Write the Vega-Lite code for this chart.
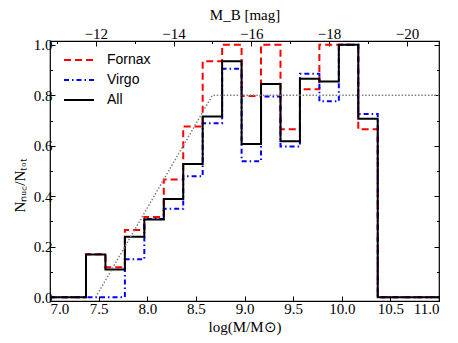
{
  "$schema": "https://vega.github.io/schema/vega-lite/v6.json",
  "width": 389,
  "height": 260,
  "autosize": {"type": "none"},
  "padding": {"left": 50, "top": 41, "right": 19, "bottom": 42},
  "background": "white",
  "config": {
    "font": "Liberation Serif",
    "view": {"stroke": "#000", "strokeWidth": 1.2},
    "axis": {
      "labelFont": "Liberation Serif", "labelFontSize": 15, "labelColor": "#000",
      "titleFont": "Liberation Serif", "titleFontSize": 15, "titleFontWeight": "normal", "titleColor": "#000",
      "tickColor": "#000", "tickWidth": 1, "domain": false, "grid": false
    }
  },
  "datasets": {
    "h": [
      {"s": "Fornax", "x": 7.0, "y": 0},
      {"s": "Fornax", "x": 7.37, "y": 0.17},
      {"s": "Fornax", "x": 7.57, "y": 0.119},
      {"s": "Fornax", "x": 7.77, "y": 0.266},
      {"s": "Fornax", "x": 7.97, "y": 0.318},
      {"s": "Fornax", "x": 8.17, "y": 0.466},
      {"s": "Fornax", "x": 8.37, "y": 0.676},
      {"s": "Fornax", "x": 8.57, "y": 0.935},
      {"s": "Fornax", "x": 8.77, "y": 1.0},
      {"s": "Fornax", "x": 8.97, "y": 0.797},
      {"s": "Fornax", "x": 9.17, "y": 1.0},
      {"s": "Fornax", "x": 9.37, "y": 0.665},
      {"s": "Fornax", "x": 9.57, "y": 0.824},
      {"s": "Fornax", "x": 9.77, "y": 1.0},
      {"s": "Fornax", "x": 9.97, "y": 1.0},
      {"s": "Fornax", "x": 10.17, "y": 0.665},
      {"s": "Fornax", "x": 10.37, "y": 0},
      {"s": "Fornax", "x": 11.0, "y": 0},
      {"s": "Virgo", "x": 7.0, "y": 0},
      {"s": "Virgo", "x": 7.37, "y": 0},
      {"s": "Virgo", "x": 7.57, "y": 0},
      {"s": "Virgo", "x": 7.77, "y": 0.15},
      {"s": "Virgo", "x": 7.97, "y": 0.31},
      {"s": "Virgo", "x": 8.17, "y": 0.35},
      {"s": "Virgo", "x": 8.37, "y": 0.479},
      {"s": "Virgo", "x": 8.57, "y": 0.689},
      {"s": "Virgo", "x": 8.77, "y": 0.905},
      {"s": "Virgo", "x": 8.97, "y": 0.539},
      {"s": "Virgo", "x": 9.17, "y": 0.795},
      {"s": "Virgo", "x": 9.37, "y": 0.597},
      {"s": "Virgo", "x": 9.57, "y": 0.885},
      {"s": "Virgo", "x": 9.77, "y": 0.776},
      {"s": "Virgo", "x": 9.97, "y": 1.0},
      {"s": "Virgo", "x": 10.17, "y": 0.726},
      {"s": "Virgo", "x": 10.37, "y": 0},
      {"s": "Virgo", "x": 11.0, "y": 0},
      {"s": "All", "x": 7.0, "y": 0},
      {"s": "All", "x": 7.37, "y": 0.169},
      {"s": "All", "x": 7.57, "y": 0.11},
      {"s": "All", "x": 7.77, "y": 0.24},
      {"s": "All", "x": 7.97, "y": 0.308},
      {"s": "All", "x": 8.17, "y": 0.389},
      {"s": "All", "x": 8.37, "y": 0.528},
      {"s": "All", "x": 8.57, "y": 0.716},
      {"s": "All", "x": 8.77, "y": 0.935},
      {"s": "All", "x": 8.97, "y": 0.607},
      {"s": "All", "x": 9.17, "y": 0.845},
      {"s": "All", "x": 9.37, "y": 0.618},
      {"s": "All", "x": 9.57, "y": 0.865},
      {"s": "All", "x": 9.77, "y": 0.855},
      {"s": "All", "x": 9.97, "y": 1.0},
      {"s": "All", "x": 10.17, "y": 0.707},
      {"s": "All", "x": 10.37, "y": 0},
      {"s": "All", "x": 11.0, "y": 0}
    ],
    "ref": [
      {"x": 7.47, "y": 0},
      {"x": 8.67, "y": 0.8},
      {"x": 11.0, "y": 0.8}
    ]
  },
  "resolve": {"axis": {"x": "independent", "y": "independent"}},
  "layer": [
    {
      "data": {"name": "h"},
      "transform": [{"filter": "datum.s == 'Fornax'"}],
      "mark": {"type": "line", "interpolate": "step-after", "strokeWidth": 2},
      "encoding": {
        "x": {"field": "x", "type": "quantitative", "scale": {"domain": [7, 11], "nice": false, "zero": false},
          "axis": {"orient": "bottom", "values": [7, 7.5, 8, 8.5, 9, 9.5, 10, 10.5, 11], "format": ".1f",
            "title": "log(M/M⊙)", "tickSize": -5, "labelPadding": 5, "titlePadding": 3}},
        "y": {"field": "y", "type": "quantitative", "scale": {"domain": [-0.015, 1.015], "nice": false, "zero": false},
          "axis": {"orient": "left", "values": [0, 0.1, 0.2, 0.3, 0.4, 0.5, 0.6, 0.7, 0.8, 0.9, 1.0],
            "labelExpr": "round(datum.value*10) % 2 == 0 ? format(datum.value, '.1f') : ''",
            "tickSize": {"condition": {"test": "round(datum.value*10) % 2 == 0", "value": -5}, "value": -2.5},
            "labelPadding": 3, "title": "Nₙᵤ꜀/Nₜₒₜ", "titlePadding": 6, "titleY": 144}},
        "color": {"field": "s", "type": "nominal",
          "scale": {"domain": ["Fornax", "Virgo", "All"], "range": ["#ff0000", "#0000ff", "#000000"]},
          "legend": {"orient": "none", "legendX": 20.5, "legendY": 10.5, "title": null, "padding": 0,
            "symbolType": "M-2,0H2", "symbolSize": 225, "symbolStrokeWidth": 2, "symbolFillColor": "transparent",
            "labelFont": "Liberation Sans", "labelFontSize": 14, "labelColor": "#000", "labelOffset": 19.5, "rowPadding": 4}},
        "strokeDash": {"field": "s", "type": "nominal",
          "scale": {"domain": ["Fornax", "Virgo", "All"], "range": [[7, 4], [5, 3, 1.5, 3], [1, 0]]}}
      }
    },
    {
      "data": {"name": "h"},
      "transform": [{"filter": "datum.s == 'Virgo'"}],
      "mark": {"type": "line", "interpolate": "step-after", "strokeWidth": 2},
      "encoding": {
        "x": {"field": "x", "type": "quantitative", "axis": null},
        "y": {"field": "y", "type": "quantitative", "axis": null},
        "color": {"field": "s", "type": "nominal"},
        "strokeDash": {"field": "s", "type": "nominal"}
      }
    },
    {
      "data": {"name": "h"},
      "transform": [{"filter": "datum.s == 'All'"}],
      "mark": {"type": "line", "interpolate": "step-after", "strokeWidth": 2},
      "encoding": {
        "x": {"field": "x", "type": "quantitative", "axis": null},
        "y": {"field": "y", "type": "quantitative",
          "axis": {"orient": "right", "values": [0, 0.1, 0.2, 0.3, 0.4, 0.5, 0.6, 0.7, 0.8, 0.9, 1.0], "labels": false, "title": null,
            "tickSize": {"condition": {"test": "round(datum.value*10) % 2 == 0", "value": -5}, "value": -2.5}}},
        "color": {"field": "s", "type": "nominal"},
        "strokeDash": {"field": "s", "type": "nominal"}
      }
    },
    {
      "data": {"name": "ref"},
      "mark": {"type": "line", "color": "#7f7f7f", "strokeWidth": 1.5, "strokeDash": [1.5, 1.8]},
      "encoding": {
        "x": {"field": "x", "type": "quantitative",
          "axis": {"orient": "top", "values": [7.07, 7.47, 7.87, 8.27, 8.67, 9.07, 9.47, 9.87, 10.27, 10.67],
            "labelExpr": "abs(round((datum.value - 7.47)/0.4)) % 2 == 0 ? '−' + round(12 + (datum.value - 7.47)/0.4) : ''",
            "tickSize": {"condition": {"test": "abs(round((datum.value - 7.47)/0.4)) % 2 == 0", "value": -5}, "value": -2.5},
            "labelPadding": 5, "title": "M_B [mag]", "titlePadding": 4}},
        "y": {"field": "y", "type": "quantitative", "axis": null}
      }
    }
  ]
}
